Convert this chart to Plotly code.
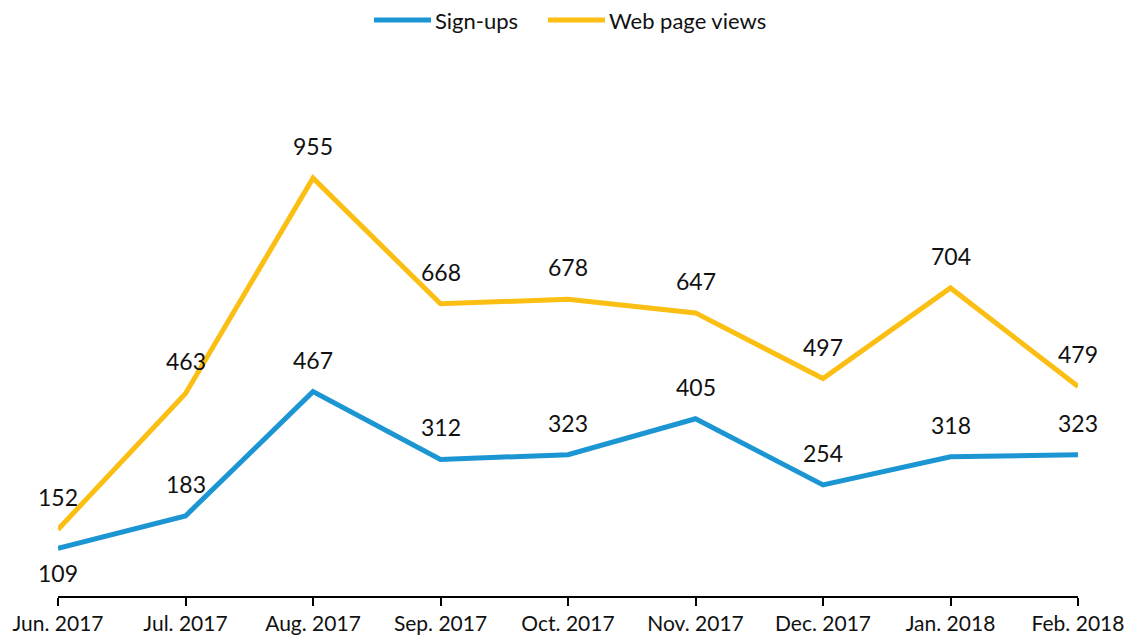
import plotly.graph_objects as go

months = ["Jun. 2017", "Jul. 2017", "Aug. 2017", "Sep. 2017", "Oct. 2017",
          "Nov. 2017", "Dec. 2017", "Jan. 2018", "Feb. 2018"]
signups = [109, 183, 467, 312, 323, 405, 254, 318, 323]
views = [152, 463, 955, 668, 678, 647, 497, 704, 479]
series_names = ["Sign-ups", "Web page views"]

BLUE = "#1b96d3"
YELLOW = "#fbbf14"
FONT = "Lato, Open Sans, sans-serif"

W, H = 1133, 638
ML, MR, MT, MB = 58, 55, 60, 42
PW, PH = W - ML - MR, H - MT - MB


def px_x(px):
    return (px - ML) / PW


def px_y(py):
    return (H - MB - py) / PH


fig = go.Figure()
fig.add_trace(go.Scatter(x=months, y=signups, mode="lines", name=series_names[0],
                         line=dict(color=BLUE, width=5)))
fig.add_trace(go.Scatter(x=months, y=views, mode="lines", name=series_names[1],
                         line=dict(color=YELLOW, width=5)))

ann = []
for i, (m, v) in enumerate(zip(months, signups)):
    shift = -25 if i == 0 else 32
    ann.append(dict(x=m, y=v, text=str(v), showarrow=False, yshift=shift,
                    font=dict(size=23, color="#111111", family=FONT)))
for m, v in zip(months, views):
    ann.append(dict(x=m, y=v, text=str(v), showarrow=False, yshift=32,
                    font=dict(size=23, color="#111111", family=FONT)))

# custom legend (longer swatches like the reference)
shapes = []
legend_items = [(series_names[0], BLUE, 374), (series_names[1], YELLOW, 548)]
ly = px_y(20)
for name, col, x0 in legend_items:
    shapes.append(dict(type="line", xref="paper", yref="paper",
                       x0=px_x(x0), x1=px_x(x0 + 57), y0=ly, y1=ly,
                       line=dict(color=col, width=5)))
    ann.append(dict(xref="paper", yref="paper", x=px_x(x0 + 59), y=ly,
                    xanchor="left", yanchor="middle", text=name, showarrow=False,
                    font=dict(size=22, color="#111111", family=FONT)))

fig.update_layout(
    width=W, height=H,
    margin=dict(l=ML, r=MR, t=MT, b=MB),
    paper_bgcolor="white", plot_bgcolor="white",
    font=dict(family=FONT, size=21, color="#111111"),
    showlegend=False,
    annotations=ann,
    shapes=shapes,
    xaxis=dict(type="category", range=[0, 8], showgrid=False, showline=True,
               linecolor="black", linewidth=2, ticks="outside", ticklen=8,
               tickwidth=2, tickcolor="black", tickfont=dict(size=21),
               automargin=False),
    yaxis=dict(range=[0, 1225], visible=False, showgrid=False, automargin=False),
)

fig.write_html("out.html")
